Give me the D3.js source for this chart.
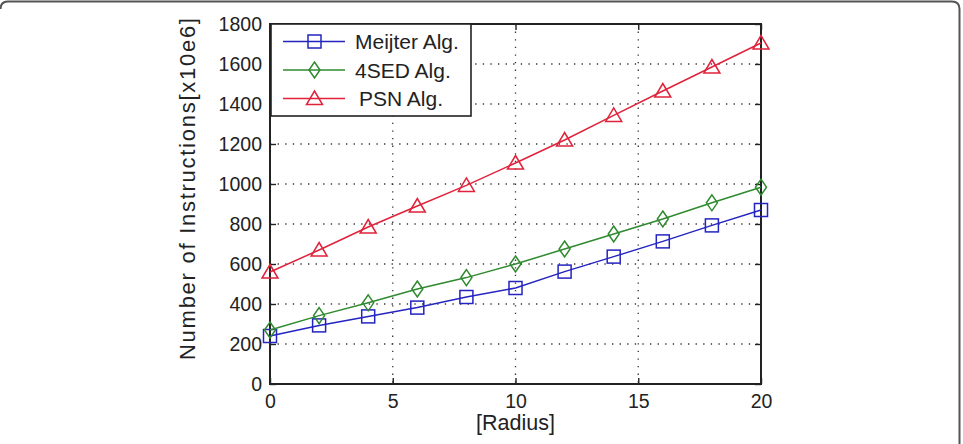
<!DOCTYPE html>
<html>
<head>
<meta charset="utf-8">
<script src="https://cdnjs.cloudflare.com/ajax/libs/d3/7.8.5/d3.min.js"></script>
<style>
  body { margin: 0; background: #fff; }
  svg { display: block; font-family: "Liberation Sans", Arial, sans-serif; }
</style>
</head>
<body>
<div id="chart"></div>
<script>
// values
const radius = [0, 2, 4, 6, 8, 10, 12, 14, 16, 18, 20];
const meijter = [240, 293, 338, 382, 435, 480, 562, 637, 713, 793, 870];
const sed4 = [270, 342, 406, 475, 532, 600, 675, 750, 825, 906, 984];
const psn = [560, 670, 785, 890, 993, 1105, 1220, 1343, 1465, 1585, 1705];
const seriesNames = ["Meijter Alg.", "4SED Alg.", "PSN Alg."];
const xTicks = [0, 5, 10, 15, 20];
const yTicks = [0, 200, 400, 600, 800, 1000, 1200, 1400, 1600, 1800];

const W = 963, H = 444;
const margin = { top: 24, right: 202, bottom: 60, left: 270 };
const iw = W - margin.left - margin.right;
const ih = H - margin.top - margin.bottom;

const svg = d3.select("#chart").append("svg").attr("width", W).attr("height", H);

// outer rounded frame (only top and right visible)
svg.append("path")
    .attr("d", "M0.5,9 Q0.5,1.5 8,1.5 L952,1.5 Q959.5,1.5 959.5,9 L959.5,450")
    .attr("fill", "none")
    .attr("stroke", "#555")
    .attr("stroke-width", 2);

const g = svg.append("g").attr("transform", `translate(${margin.left},${margin.top})`);

const x = d3.scaleLinear().domain([0, 20]).range([0, iw]);
const y = d3.scaleLinear().domain([0, 1800]).range([ih, 0]);

// grid
const grid = g.append("g").attr("stroke", "#333").attr("stroke-width", 1.3).attr("stroke-dasharray", "1.3,6.3");
grid.selectAll(".gx").data(xTicks.slice(1, -1)).join("line")
    .attr("x1", d => x(d)).attr("x2", d => x(d)).attr("y1", 0).attr("y2", ih);
grid.selectAll(".gy").data(yTicks.slice(1, -1)).join("line")
    .attr("x1", 0).attr("x2", iw).attr("y1", d => y(d)).attr("y2", d => y(d));

// axes with inward ticks on all four sides
const tickLen = 6;
const fmt = d3.format("d");
const xAxis = g.append("g").attr("transform", `translate(0,${ih})`)
    .call(d3.axisBottom(x).tickValues(xTicks).tickFormat(fmt).tickSizeInner(-tickLen).tickSizeOuter(0).tickPadding(10));
const yAxis = g.append("g")
    .call(d3.axisLeft(y).tickValues(yTicks).tickFormat(fmt).tickSizeInner(-tickLen).tickSizeOuter(0).tickPadding(8));
g.append("g").attr("transform", `translate(${iw},0)`)
    .call(d3.axisRight(y).tickValues(yTicks).tickSizeInner(-tickLen).tickSizeOuter(0).tickFormat(""));
g.append("g")
    .call(d3.axisTop(x).tickValues(xTicks).tickSizeInner(-tickLen).tickSizeOuter(0).tickFormat(""));
g.selectAll(".domain").remove();
g.selectAll(".tick line").attr("stroke", "#222").attr("stroke-width", 1.4);
g.selectAll(".tick text").attr("fill", "#222").attr("font-size", 19.5)
    .attr("font-family", "'Liberation Sans', Arial, sans-serif");
xAxis.selectAll(".tick text").attr("dy", "0.72em");

g.append("rect").attr("width", iw).attr("height", ih)
    .attr("fill", "none").attr("stroke", "#222").attr("stroke-width", 2);

// axis titles
svg.append("text")
    .attr("x", margin.left + iw / 2).attr("y", 430)
    .attr("text-anchor", "middle").attr("font-size", 21.5).attr("fill", "#222")
    .text("[Radius]");
svg.append("text")
    .attr("transform", `translate(194.5,189) rotate(-90)`)
    .attr("text-anchor", "middle").attr("font-size", 22).attr("fill", "#222")
    .attr("textLength", 342).attr("lengthAdjust", "spacing")
    .text("Number of Instructions[x10e6]");

// series
const colors = ["#2424c0", "#2f8a2f", "#e0223a"];
const seriesData = [meijter, sed4, psn];
const markers = [
    (s) => s.append("rect").attr("x", -6.5).attr("y", -6.5).attr("width", 13).attr("height", 13),
    (s) => s.append("path").attr("d", "M0,-8L5.5,0L0,8L-5.5,0Z"),
    (s) => s.append("path").attr("d", "M0,-7.5L8,6L-8,6Z"),
];
const line = d3.line().x(d => x(d[0])).y(d => y(d[1]));

seriesData.forEach((vals, i) => {
    const pts = radius.map((r, j) => [r, vals[j]]);
    g.append("path").datum(pts)
        .attr("d", line)
        .attr("fill", "none")
        .attr("stroke", colors[i])
        .attr("stroke-width", 1.5);
    const mk = g.selectAll(`.mk${i}`).data(pts).join("g")
        .attr("class", `mk${i}`)
        .attr("transform", d => `translate(${x(d[0])},${y(d[1])})`);
    markers[i](mk).attr("fill", "none").attr("stroke", colors[i]).attr("stroke-width", 1.5);
});

// legend
const leg = g.append("g").attr("transform", "translate(1,0)");
leg.append("rect").attr("width", 200).attr("height", 92)
    .attr("fill", "#fff").attr("stroke", "#222").attr("stroke-width", 1.6);
seriesNames.forEach((name, i) => {
    const ly = 17.5 + i * 28.5;
    leg.append("line").attr("x1", 12).attr("x2", 74).attr("y1", ly).attr("y2", ly)
        .attr("stroke", colors[i]).attr("stroke-width", 1.5);
    const m = leg.append("g").attr("transform", `translate(43.5,${ly})`);
    markers[i](m).attr("fill", "none").attr("stroke", colors[i]).attr("stroke-width", 1.5);
    leg.append("text").attr("x", i === 2 ? 88 : 84).attr("y", ly).attr("dy", "0.36em")
        .attr("font-size", 21).attr("fill", "#222").text(name);
});
</script>
</body>
</html>
